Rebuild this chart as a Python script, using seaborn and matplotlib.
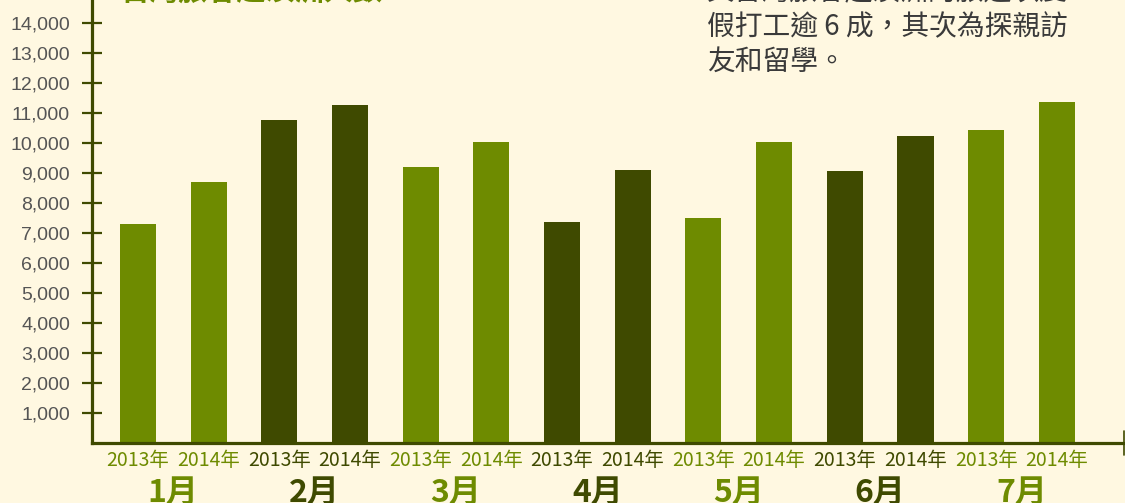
import matplotlib
matplotlib.use("Agg")
import matplotlib.pyplot as plt
import seaborn as sns
import pandas as pd
import numpy as np

# ---- data ----
months = ["1月", "2月", "3月", "4月", "5月", "6月", "7月"]
years = ["2013年", "2014年"]
visitors_2013 = [7290, 10760, 9190, 7360, 7490, 9060, 10420]
visitors_2014 = [8690, 11250, 10020, 9090, 10020, 10220, 11360]
y_ticks = list(range(1000, 15000, 1000))

title_text = "台灣旅客赴澳洲人數"
note_lines = ["其台灣旅客赴澳洲的旅遊以度", "假打工逾 6 成，其次為探親訪", "友和留學。"]

# ---- style ----
BG = "#FFF8E1"
LIGHT = "#6E8B00"
DARK = "#3F4A00"
AXIS = "#3F4A00"
GRAY = "#555555"
TEXT = "#3A3A3A"

sns.set_style("white")
plt.rcParams["font.family"] = ["Noto Sans CJK TC", "DejaVu Sans"]

keys, vals, cols, ylabels = [], [], [], []
for i, m in enumerate(months):
    c = LIGHT if i % 2 == 0 else DARK
    for y, v in zip(years, [visitors_2013[i], visitors_2014[i]]):
        keys.append(f"{m}-{y}")
        vals.append(v)
        cols.append(c)
        ylabels.append(y)
df = pd.DataFrame({"key": keys, "value": vals})

W, H = 1125, 503
fig = plt.figure(figsize=(W / 100, H / 100), dpi=100, facecolor=BG)
ax_left, ax_right, ax_bottom_px = 92, 1124, 442.7
ax = fig.add_axes([ax_left / W, (H - ax_bottom_px) / H, (ax_right - ax_left) / W, ax_bottom_px / H])
ax.set_facecolor(BG)

sns.barplot(data=df, x="key", y="value", hue="key", palette=cols, legend=False,
            width=0.51, saturation=1, ax=ax, edgecolor="none", linewidth=0)

ax.set_xlim(-0.65, 13.95)
ax.set_ylim(0, 14757)
ax.set_xlabel("")
ax.set_ylabel("")

for s in ["top", "right"]:
    ax.spines[s].set_visible(False)
for s in ["left", "bottom"]:
    ax.spines[s].set_color(AXIS)
    ax.spines[s].set_linewidth(2.3)
ax.spines["left"].set_zorder(5)
ax.spines["bottom"].set_zorder(5)

# y ticks: every 1000 labelled (short), even thousands get longer ticks
ax.set_yticks(y_ticks)
ax.set_yticklabels([f"{v:,}" for v in y_ticks], fontsize=14, color=GRAY,
                   family=["Liberation Sans", "DejaVu Sans"])
ax.tick_params(axis="y", which="major", left=True, direction="inout", length=14.4,
               width=1.6, color=AXIS, pad=8.6)
ax.set_yticks([v for v in y_ticks if v % 2000 == 0], minor=True)
ax.tick_params(axis="y", which="minor", left=True, direction="inout", length=23,
               width=1.6, color=AXIS)

# x tick labels (years)
ax.set_xticks(range(len(keys)))
ax.set_xticklabels(ylabels, fontsize=14)
ax.tick_params(axis="x", which="both", length=0, pad=16.8)
for lbl, c in zip(ax.get_xticklabels(), cols):
    lbl.set_color(c)
    lbl.set_va("baseline")

# month labels
for i, m in enumerate(months):
    c = LIGHT if i % 2 == 0 else DARK
    ax.annotate(m, xy=(2 * i + 0.5, 0), xycoords=("data", "axes fraction"),
                xytext=(0, -42.5), textcoords="offset points", ha="center", va="baseline",
                fontsize=23, fontweight="heavy", color=c, annotation_clip=False)

# end mark of x axis
ax.plot([1, 1], [-0.027, 0.027], transform=ax.transAxes, clip_on=False,
        color=AXIS, lw=1.2)

# clipped title (top-left)
fig.text(120 / W, 1 + 9 / H, title_text, fontsize=21, fontweight="bold",
         color=LIGHT, ha="left", va="center")

# note text (top-right)
for k, line in enumerate(note_lines):
    fig.text(707 / W, 1 - (-8 + 35 * k) / H, line, fontsize=20, color=TEXT,
             ha="left", va="center")

fig.savefig("out.png", dpi=100, facecolor=BG)
